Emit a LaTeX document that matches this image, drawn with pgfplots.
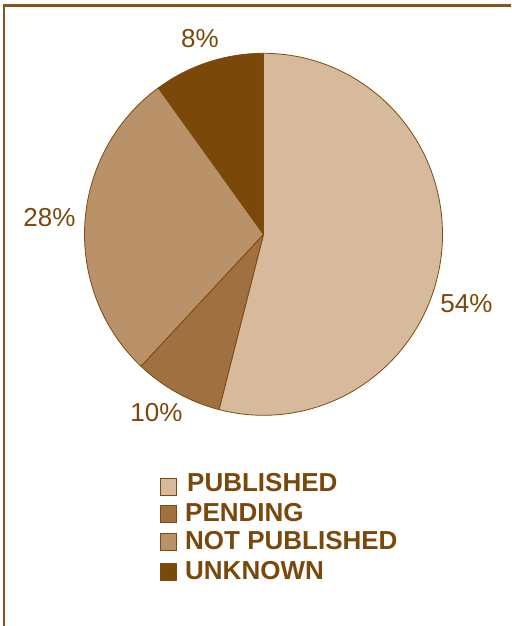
\documentclass[border=0pt]{standalone}
\usepackage{pgfplots}
\pgfplotsset{compat=1.18}
\usepackage{fontspec}
\setmainfont{Liberation Sans}
\definecolor{pub}{RGB}{215,185,155}
\definecolor{pend}{RGB}{160,112,64}
\definecolor{notpub}{RGB}{186,146,106}
\definecolor{unk}{RGB}{122,72,8}
\definecolor{edge}{RGB}{125,75,15}
\definecolor{txt}{RGB}{122,72,10}
\definecolor{frame}{RGB}{135,85,25}
% slice values (percent of the circle, as drawn)
\def\vPub{54}\def\vPend{8}\def\vNot{28}\def\vUnk{10}
\pgfmathsetmacro\aA{90}
\pgfmathsetmacro\aB{\aA-\vPub*3.6}
\pgfmathsetmacro\aC{\aB-\vPend*3.6}
\pgfmathsetmacro\aD{\aC-\vNot*3.6}
\pgfmathsetmacro\aE{\aD-\vUnk*3.6}
\def\rx{179pt}\def\ry{181pt}
\newcommand{\slice}[3]{%
  \filldraw[fill=#1,draw=edge,line width=0.8pt,line join=round]
    (axis cs:263.5,391.7) -- ++(#2:\rx\space and \ry)
    arc[start angle=#2,end angle=#3,x radius=\rx,y radius=\ry] -- cycle;}
\begin{document}
\begin{tikzpicture}
\begin{axis}[x=1pt,y=1pt,xmin=0,xmax=511,ymin=0,ymax=626,
  hide axis,clip=false]
\slice{pub}{\aA}{\aB}
\slice{pend}{\aB}{\aC}
\slice{notpub}{\aC}{\aD}
\slice{unk}{\aD}{\aE}
% frame
\draw[frame,line width=2.5pt] (axis cs:4,0) -- (axis cs:4,620.5) -- (axis cs:511,620.5);
% percentage labels
\begin{scope}[every node/.style={text=txt,font=\fontsize{26}{30}\selectfont,inner sep=0pt}]
\node[anchor=base] at (axis cs:466.5,313) {54\%};
\node[anchor=base] at (axis cs:200,578) {8\%};
\node[anchor=base] at (axis cs:49.5,399) {28\%};
\node[anchor=base] at (axis cs:156.5,204) {10\%};
\end{scope}
% legend
\begin{scope}[every node/.style={text=txt,font=\fontsize{26}{30}\selectfont\bfseries,inner sep=0pt,anchor=base west}]
\filldraw[fill=pub,draw=edge,line width=0.6pt] (axis cs:160.5,131) rectangle (axis cs:176.5,148);
\node at (axis cs:187,134) {PUBLISHED};
\filldraw[fill=pend,draw=edge,line width=0.6pt] (axis cs:160.5,104) rectangle (axis cs:176.5,121);
\node at (axis cs:185,104) {PENDING};
\filldraw[fill=notpub,draw=edge,line width=0.6pt] (axis cs:160.5,76) rectangle (axis cs:176.5,93);
\node at (axis cs:185,76) {NOT PUBLISHED};
\filldraw[fill=unk,draw=edge,line width=0.6pt] (axis cs:160.5,46) rectangle (axis cs:176.5,63);
\node at (axis cs:185,46) {UNKNOWN};
\end{scope}
\end{axis}
\pgfresetboundingbox
\useasboundingbox (0,0) rectangle (511pt,626pt);
\end{tikzpicture}
\end{document}
